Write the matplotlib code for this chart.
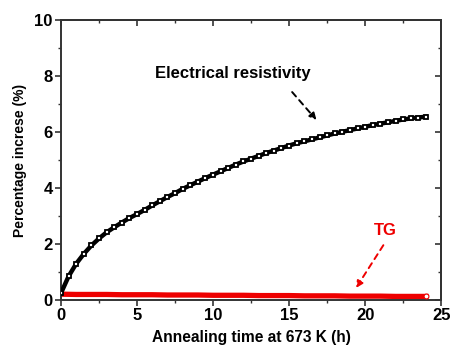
import matplotlib
matplotlib.use("Agg")
import matplotlib.pyplot as plt

plt.rcParams['font.family'] = ['Liberation Sans', 'DejaVu Sans']

# Electrical resistivity (% increase) vs annealing time (h)
t_res = [0, 0.5, 1, 1.5, 2, 2.5, 3, 3.5, 4, 4.5, 5, 5.5, 6, 6.5, 7, 7.5, 8, 8.5,
         9, 9.5, 10, 10.5, 11, 11.5, 12, 12.5, 13, 13.5, 14, 14.5, 15, 15.5, 16,
         16.5, 17, 17.5, 18, 18.5, 19, 19.5, 20, 20.5, 21, 21.5, 22, 22.5, 23,
         23.5, 24]
res = [0.25, 0.85, 1.3, 1.65, 1.95, 2.2, 2.42, 2.6, 2.77, 2.93, 3.07, 3.22, 3.38,
       3.53, 3.68, 3.82, 3.97, 4.1, 4.23, 4.36, 4.48, 4.6, 4.72, 4.84, 4.95, 5.05,
       5.15, 5.25, 5.34, 5.43, 5.52, 5.6, 5.67, 5.74, 5.81, 5.88, 5.95, 6.01, 6.07,
       6.13, 6.19, 6.25, 6.3, 6.35, 6.4, 6.45, 6.49, 6.52, 6.55]

# TG (% increase)
t_tg = [0, 1, 2, 3, 4, 5, 6, 7, 8, 9, 10, 11, 12, 13, 14, 15, 16, 17, 18, 19, 20,
        21, 22, 23, 24]
tg = [0.21, 0.2, 0.2, 0.2, 0.19, 0.19, 0.19, 0.18, 0.18, 0.18, 0.17, 0.17, 0.17,
      0.16, 0.16, 0.16, 0.15, 0.15, 0.15, 0.14, 0.14, 0.14, 0.13, 0.13, 0.13]

xticks = [0, 5, 10, 15, 20, 25]
yticks = [0, 2, 4, 6, 8, 10]
xminor = [2.5, 7.5, 12.5, 17.5, 22.5]
yminor = [1, 3, 5, 7, 9]

fig = plt.figure(figsize=(4.52, 3.53), dpi=100)
ax = fig.add_axes([0.135, 0.150, 0.841, 0.793])

ax.plot(t_tg, tg, color='#ee0000', lw=3.8, zorder=2)
ax.plot([t_tg[-1]], [tg[-1]], 'o', ms=3.5, mfc='white', mec='#ee0000', mew=0.8, zorder=3)

ax.plot(t_res, res, color='black', lw=3.2, zorder=4)
ax.plot(t_res, res, 's', ms=3.4, mfc='white', mec='black', mew=1.3, zorder=5)

ax.set_xlim(0, 25)
ax.set_ylim(0, 10)
ax.set_xticks(xticks)
ax.set_yticks(yticks)
ax.set_xticks(xminor, minor=True)
ax.set_yticks(yminor, minor=True)
ax.tick_params(which='major', direction='out', length=4, width=1.2, color='#333333',
               labelsize=12, pad=2)
ax.tick_params(which='minor', direction='out', length=2.5, width=1.0, color='#333333')
for lab in ax.get_xticklabels() + ax.get_yticklabels():
    lab.set_fontweight('bold')

secx = ax.secondary_xaxis('top')
secx.set_xticks(xticks)
secx.set_xticks(xminor, minor=True)
secx.tick_params(which='major', direction='in', length=4, width=1.2, color='#333333', labeltop=False)
secx.tick_params(which='minor', direction='in', length=2.5, width=1.0, color='#333333')
secy = ax.secondary_yaxis('right')
secy.set_yticks(yticks)
secy.set_yticks(yminor, minor=True)
secy.tick_params(which='major', direction='in', length=4, width=1.2, color='#333333', labelright=False)
secy.tick_params(which='minor', direction='in', length=2.5, width=1.0, color='#333333')

for sp in ax.spines.values():
    sp.set_linewidth(1.4)
    sp.set_color('#333333')
secx.spines['top'].set_linewidth(1.4)
secx.spines['top'].set_color('#333333')
secy.spines['right'].set_linewidth(1.4)
secy.spines['right'].set_color('#333333')

ax.set_xlabel('Annealing time at 673 K (h)', fontsize=11.2, fontweight='bold', labelpad=5)
ax.set_ylabel('Percentage increse (%)', fontsize=10, fontweight='bold', labelpad=5)

ax.text(11.3, 8.1, 'Electrical resistivity', fontsize=12, fontweight='bold',
        ha='center', va='center')
ax.annotate('', xy=(16.8, 6.43), xytext=(15.2, 7.43),
            arrowprops=dict(arrowstyle='-|>', color='black', lw=1.4, ls=(0, (3, 2.5)),
                            mutation_scale=10, shrinkA=0, shrinkB=0))
ax.text(21.3, 2.5, 'TG', fontsize=12, fontweight='bold', color='#ee0000',
        ha='center', va='center')
ax.annotate('', xy=(19.4, 0.43), xytext=(21.2, 1.96),
            arrowprops=dict(arrowstyle='-|>', color='#ee0000', lw=1.4, ls=(0, (3, 2.5)),
                            mutation_scale=10, shrinkA=0, shrinkB=0))

fig.savefig('out.png', dpi=100)
